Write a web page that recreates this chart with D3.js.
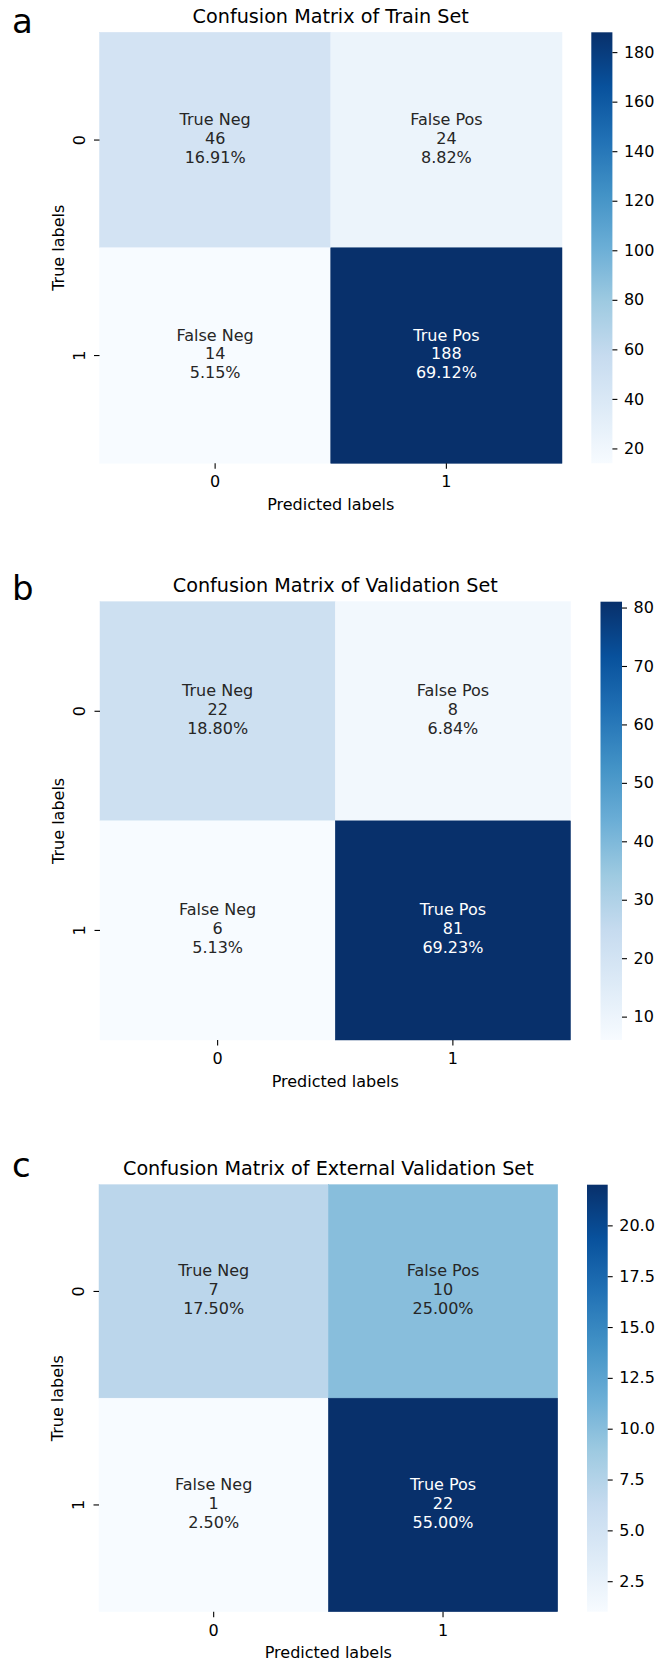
<!DOCTYPE html>
<html>
<head>
<meta charset="utf-8">
<script src="https://cdn.jsdelivr.net/npm/d3@7"></script>
<style>
  html, body { margin: 0; padding: 0; background: #fff; }
  svg { display: block; }
  text { font-family: "DejaVu Sans", sans-serif; }
</style>
</head>
<body>
<svg id="chart" width="667" height="1661"></svg>
<script>
// Class labels shared by both axes
const classLabels = ["0", "1"];
// Cell names in row-major order: (true 0, pred 0), (true 0, pred 1), (true 1, pred 0), (true 1, pred 1)
const cellNames = ["True Neg", "False Pos", "False Neg", "True Pos"];

// Counts for each set, row-major
const trainCounts = [46, 24, 14, 188];
const validationCounts = [22, 8, 6, 81];
const externalCounts = [7, 10, 1, 22];

// Colorbar tick values
const trainTicks = [20, 40, 60, 80, 100, 120, 140, 160, 180];
const validationTicks = [10, 20, 30, 40, 50, 60, 70, 80];
const externalTicks = [2.5, 5.0, 7.5, 10.0, 12.5, 15.0, 17.5, 20.0];

// Titles and panel letters
const panelLetters = ["a", "b", "c"];
const panelTitles = [
  "Confusion Matrix of Train Set",
  "Confusion Matrix of Validation Set",
  "Confusion Matrix of External Validation Set"
];

// Matplotlib "Blues" anchor colours (linear segments)
const bluesStops = ["#f7fbff", "#deebf7", "#c6dbef", "#9ecae1", "#6baed6",
                    "#4292c6", "#2171b5", "#08519c", "#08306b"];

// Layout for each panel
const layouts = [
  { box: { x0: 99.5, x1: 562, y0: 32.3, y1: 463.3 }, cbar: { x0: 591.3, x1: 612.4 }, letterY: 33, fmt: d3.format("d") },
  { box: { x0: 100, x1: 570.5, y0: 601.7, y1: 1040 }, cbar: { x0: 600.5, x1: 622 }, letterY: 600, fmt: d3.format("d") },
  { box: { x0: 99, x1: 557.7, y0: 1184.7, y1: 1611.7 }, cbar: { x0: 587, x1: 607.7 }, letterY: 1177, fmt: d3.format(".1f") }
];

const countsList = [trainCounts, validationCounts, externalCounts];
const ticksList = [trainTicks, validationTicks, externalTicks];

const svg = d3.select("#chart");
const defs = svg.append("defs");
const FONT = 16;
const TEXT_DARK = "#262626";

function luminance(c) {
  const rgb = d3.rgb(c);
  const lin = v => { v /= 255; return v <= 0.03928 ? v / 12.92 : Math.pow((v + 0.055) / 1.055, 2.4); };
  return 0.2126 * lin(rgb.r) + 0.7152 * lin(rgb.g) + 0.0722 * lin(rgb.b);
}

countsList.forEach((counts, p) => {
  const L = layouts[p];
  const total = d3.sum(counts);
  const vmin = d3.min(counts), vmax = d3.max(counts);

  const color = d3.scaleLinear()
    .domain(bluesStops.map((_, i) => vmin + (i / (bluesStops.length - 1)) * (vmax - vmin)))
    .range(bluesStops)
    .interpolate(d3.interpolateRgb);

  const x = d3.scaleBand().domain(classLabels).range([L.box.x0, L.box.x1]);
  const y = d3.scaleBand().domain(classLabels).range([L.box.y0, L.box.y1]);

  const g = svg.append("g");

  const cells = counts.map((v, i) => ({
    row: classLabels[Math.floor(i / 2)],
    col: classLabels[i % 2],
    value: v,
    name: cellNames[i],
    pct: d3.format(".2%")(v / total)
  }));

  // Heatmap cells
  g.selectAll("rect.cell").data(cells).join("rect")
    .attr("class", "cell")
    .attr("x", d => x(d.col))
    .attr("y", d => y(d.row))
    .attr("width", x.bandwidth())
    .attr("height", y.bandwidth())
    .attr("fill", d => color(d.value))
    .attr("stroke", d => color(d.value))
    .attr("stroke-width", 0.5);

  // Annotations: name, count, percentage
  const lineGap = 18.8;
  const ann = g.selectAll("text.ann").data(cells).join("text")
    .attr("class", "ann")
    .attr("text-anchor", "middle")
    .attr("font-size", FONT)
    .attr("fill", d => luminance(color(d.value)) > 0.408 ? TEXT_DARK : "#ffffff")
    .attr("transform", d => `translate(${x(d.col) + x.bandwidth() / 2},${y(d.row) + y.bandwidth() / 2 + 3.8})`);
  ann.append("tspan").attr("x", 0).attr("y", -lineGap).text(d => d.name);
  ann.append("tspan").attr("x", 0).attr("y", 0).text(d => d.value);
  ann.append("tspan").attr("x", 0).attr("y", lineGap).text(d => d.pct);

  // X axis
  const xAxis = g.append("g")
    .attr("transform", `translate(0,${L.box.y1})`)
    .call(d3.axisBottom(x).tickSize(5.5).tickPadding(7));
  xAxis.select(".domain").remove();
  xAxis.selectAll(".tick line").attr("stroke", "#000").attr("stroke-width", 1.1);
  xAxis.selectAll(".tick text").attr("font-size", FONT).attr("fill", "#000")
    .attr("font-family", "DejaVu Sans, sans-serif");

  // Y axis with rotated tick labels
  const yAxis = g.append("g")
    .attr("transform", `translate(${L.box.x0},0)`)
    .call(d3.axisLeft(y).tickSize(5.5).tickFormat(""));
  yAxis.select(".domain").remove();
  yAxis.selectAll(".tick line").attr("stroke", "#000").attr("stroke-width", 1.1);
  g.selectAll("text.ytick").data(classLabels).join("text")
    .attr("class", "ytick")
    .attr("text-anchor", "middle")
    .attr("font-size", FONT)
    .attr("fill", "#000")
    .attr("transform", d => `translate(${L.box.x0 - 15},${y(d) + y.bandwidth() / 2}) rotate(-90)`)
    .text(d => d);

  // Axis labels
  g.append("text")
    .attr("x", (L.box.x0 + L.box.x1) / 2)
    .attr("y", L.box.y1 + 46.5)
    .attr("text-anchor", "middle")
    .attr("font-size", FONT)
    .attr("fill", "#000")
    .text("Predicted labels");
  g.append("text")
    .attr("text-anchor", "middle")
    .attr("font-size", FONT)
    .attr("fill", "#000")
    .attr("transform", `translate(${L.box.x0 - 36},${(L.box.y0 + L.box.y1) / 2}) rotate(-90)`)
    .text("True labels");

  // Title
  g.append("text")
    .attr("x", (L.box.x0 + L.box.x1) / 2)
    .attr("y", L.box.y0 - 9.3)
    .attr("text-anchor", "middle")
    .attr("font-size", FONT * 1.2)
    .attr("fill", "#000")
    .text(panelTitles[p]);

  // Panel letter
  g.append("text")
    .attr("x", 12)
    .attr("y", L.letterY)
    .attr("font-family", "Liberation Sans, Arial, sans-serif")
    .attr("font-size", 34)
    .attr("fill", "#000")
    .text(panelLetters[p]);

  // Colorbar
  const cScale = d3.scaleLinear().domain([vmin, vmax]).range([L.box.y1, L.box.y0]);
  const gradId = "grad" + p;
  const grad = defs.append("linearGradient").attr("id", gradId)
    .attr("x1", 0).attr("y1", 1).attr("x2", 0).attr("y2", 0);
  grad.selectAll("stop").data(bluesStops).join("stop")
    .attr("offset", (_, i) => i / (bluesStops.length - 1))
    .attr("stop-color", d => d);
  g.append("rect")
    .attr("x", L.cbar.x0)
    .attr("y", L.box.y0)
    .attr("width", L.cbar.x1 - L.cbar.x0)
    .attr("height", L.box.y1 - L.box.y0)
    .attr("fill", `url(#${gradId})`);

  const cAxis = g.append("g")
    .attr("transform", `translate(${L.cbar.x1},0)`)
    .call(d3.axisRight(cScale).tickValues(ticksList[p]).tickFormat(L.fmt).tickSize(5).tickPadding(6.5));
  cAxis.select(".domain").remove();
  cAxis.selectAll(".tick line").attr("stroke", "#000").attr("stroke-width", 1.1);
  cAxis.selectAll(".tick text").attr("font-size", FONT).attr("fill", "#000")
    .attr("font-family", "DejaVu Sans, sans-serif");
});
</script>
</body>
</html>
